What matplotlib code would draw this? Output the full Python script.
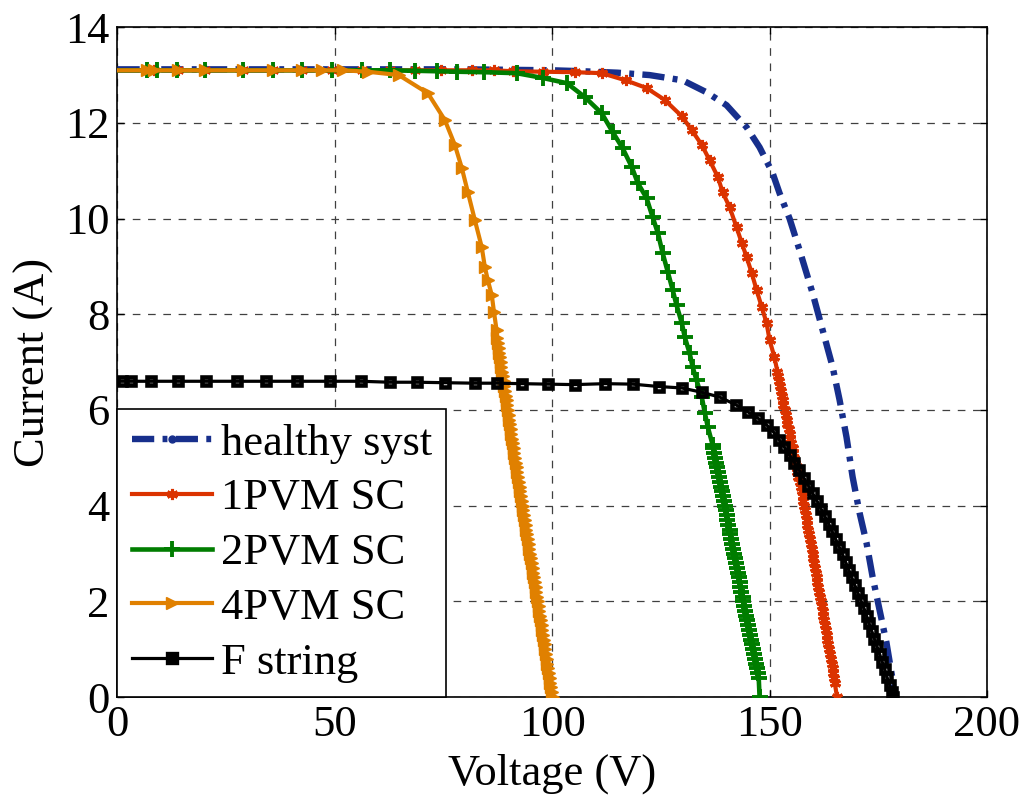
import matplotlib
matplotlib.use('Agg')
import matplotlib.pyplot as plt
from matplotlib.lines import Line2D

plt.rcParams['font.family'] = ['Liberation Serif', 'DejaVu Serif']
plt.rcParams['lines.scale_dashes'] = False

# I-V curves: voltage (V) / current (A)
v_healthy = [0, 20, 40, 60, 80, 100, 107, 115, 122.4, 130, 135.5, 140.1, 144.7, 147.7, 150.7, 152.3,
             154.6, 156.9, 159.9, 162.2, 164.5, 166.1, 167.7, 169.1, 170.7, 172.3, 173.7, 175.3,
             176.9, 178.3, 178.6]
i_healthy = [13.12, 13.12, 13.12, 13.12, 13.12, 13.1, 13.08, 13.05, 13.0, 12.89, 12.64, 12.37, 11.91,
             11.49, 10.95, 10.53, 10.0, 9.34, 8.44, 7.67, 6.90, 6.21, 5.43, 4.60, 3.85, 3.22, 2.51,
             1.82, 1.13, 0.36, 0.0]

v_1pvm = [0, 6.8, 8.5, 14.0, 20.1, 28.9, 35.8, 42.4, 49.3, 56.2, 62.6, 68.4, 74.5, 81.5, 86.5, 91.0,
          97.8, 105.2, 111.4, 116.9, 121.7, 125.9, 129.8, 132.1, 134.4, 136.2, 138.1, 139.2, 140.8,
          142.4, 143.6, 144.7, 145.9, 147.0, 148.2, 149.3, 150.0, 151.1, 151.8,
          152.0, 152.2, 152.4, 152.6, 152.8, 153.0, 153.2, 153.5, 153.7, 153.9,
          154.1, 154.4, 154.6, 154.8, 155.0, 155.3, 155.5, 155.7, 155.9, 156.2,
          156.4, 156.6, 156.9, 157.2, 157.4, 157.6, 157.8, 158.0, 158.2, 158.3,
          158.5, 158.7, 158.9, 159.1, 159.3, 159.5, 159.7, 159.9, 160.0, 160.2,
          160.4, 160.6, 160.8, 161.0, 161.2, 161.4, 161.6, 161.8, 162.0, 162.2,
          162.4, 162.6, 162.7, 162.9, 163.1, 163.3, 163.5, 163.7, 163.9, 164.1,
          164.3, 164.5, 164.6, 164.8, 165.0, 165.5]
i_1pvm = [13.1, 13.1, 13.1, 13.1, 13.1, 13.1, 13.1, 13.1, 13.1, 13.1, 13.1, 13.1, 13.1, 13.1, 13.1, 13.08,
          13.07, 13.06, 13.04, 12.89, 12.73, 12.48, 12.14, 11.85, 11.54, 11.22, 10.87, 10.55, 10.24,
          9.82, 9.49, 9.20, 8.86, 8.51, 8.15, 7.82, 7.46, 7.11, 6.80,
          6.7, 6.6, 6.5, 6.4, 6.3, 6.2, 6.1, 6.0, 5.9, 5.8,
          5.7, 5.6, 5.5, 5.4, 5.3, 5.2, 5.1, 5.0, 4.9, 4.8,
          4.7, 4.6, 4.5, 4.4, 4.3, 4.2, 4.1, 4.0, 3.9, 3.8,
          3.7, 3.6, 3.5, 3.4, 3.3, 3.2, 3.1, 3.0, 2.9, 2.8,
          2.7, 2.6, 2.5, 2.4, 2.3, 2.2, 2.1, 2.0, 1.9, 1.8,
          1.7, 1.6, 1.5, 1.4, 1.3, 1.2, 1.1, 1.0, 0.9, 0.8,
          0.7, 0.6, 0.5, 0.4, 0.3, 0.0]

v_2pvm = [0, 6.8, 9.1, 13.7, 20.1, 28.9, 35.7, 42.4, 49.3, 56.2, 62.6, 68.4, 73.4, 78.0, 84.3, 91.8,
          97.8, 103.4, 107.5, 111.4, 113.9, 116.2, 118.3, 119.7, 121.7, 123.1, 124.3, 125.4, 126.6,
          127.7, 128.6, 129.8, 130.5, 131.6, 132.3, 133.2, 134.4, 135.1, 135.8, 136.9,
          137.0, 137.2, 137.5, 137.7, 137.9, 138.1, 138.3, 138.6, 138.8, 139.0,
          139.2, 139.4, 139.7, 139.9, 140.1, 140.3, 140.5, 140.8, 141.0, 141.2,
          141.4, 141.6, 141.8, 142.0, 142.2, 142.4, 142.7, 142.9, 143.1, 143.3,
          143.5, 143.8, 144.0, 144.2, 144.4, 144.6, 144.9, 145.1, 145.3, 145.5,
          145.8, 146.0, 146.2, 146.5, 146.7, 146.9, 147.1, 147.3, 147.5, 147.7]
i_2pvm = [13.1, 13.1, 13.1, 13.1, 13.1, 13.1, 13.1, 13.1, 13.1, 13.1, 13.1, 13.09, 13.08, 13.07, 13.06,
          13.04, 12.94, 12.83, 12.54, 12.20, 11.81, 11.47, 11.08, 10.74, 10.43, 10.03, 9.70, 9.28,
          8.88, 8.51, 8.19, 7.82, 7.52, 7.19, 6.90, 6.62, 6.27, 5.94, 5.64, 5.27,
          5.2, 5.1, 5.0, 4.9, 4.8, 4.7, 4.6, 4.5, 4.4, 4.3,
          4.2, 4.1, 4.0, 3.9, 3.8, 3.7, 3.6, 3.5, 3.4, 3.3,
          3.2, 3.1, 3.0, 2.9, 2.8, 2.7, 2.6, 2.5, 2.4, 2.3,
          2.2, 2.1, 2.0, 1.9, 1.8, 1.7, 1.6, 1.5, 1.4, 1.3,
          1.2, 1.1, 1.0, 0.9, 0.8, 0.7, 0.6, 0.5, 0.4, 0.0]

v_4pvm = [0, 6.8, 8.5, 14.0, 20.1, 28.9, 35.8, 42.4, 47.0, 51.8, 57.6, 64.7, 71.4, 75.3, 77.6, 79.2,
          80.6, 82.2, 83.8, 84.5, 85.2, 86.1, 86.6, 87.2,
          87.4, 87.5, 87.7, 87.8, 88.0, 88.2, 88.3, 88.5, 88.6, 88.8,
          89.0, 89.1, 89.3, 89.5, 89.6, 89.8, 90.0, 90.1, 90.3, 90.5,
          90.6, 90.8, 91.0, 91.1, 91.3, 91.5, 91.6, 91.8, 92.0, 92.1,
          92.3, 92.5, 92.6, 92.8, 93.0, 93.2, 93.3, 93.5, 93.7, 93.9,
          94.0, 94.2, 94.4, 94.6, 94.7, 94.9, 95.1, 95.3, 95.5, 95.6,
          95.8, 96.0, 96.2, 96.3, 96.5, 96.7, 96.9, 97.0, 97.2, 97.4,
          97.6, 97.7, 97.9, 98.1, 98.3, 98.4, 98.6, 98.8, 98.9, 99.1,
          99.3, 99.5, 99.6, 99.8, 100.0, 100.1]
i_4pvm = [13.1, 13.1, 13.1, 13.1, 13.1, 13.1, 13.1, 13.1, 13.1, 13.1, 13.07, 13.0, 12.62, 12.06, 11.54,
          11.06, 10.55, 9.97, 9.40, 8.99, 8.71, 8.40, 8.05, 7.67,
          7.5, 7.4, 7.3, 7.2, 7.1, 7.0, 6.9, 6.8, 6.7, 6.6,
          6.5, 6.4, 6.3, 6.2, 6.1, 6.0, 5.9, 5.8, 5.7, 5.6,
          5.5, 5.4, 5.3, 5.2, 5.1, 5.0, 4.9, 4.8, 4.7, 4.6,
          4.5, 4.4, 4.3, 4.2, 4.1, 4.0, 3.9, 3.8, 3.7, 3.6,
          3.5, 3.4, 3.3, 3.2, 3.1, 3.0, 2.9, 2.8, 2.7, 2.6,
          2.5, 2.4, 2.3, 2.2, 2.1, 2.0, 1.9, 1.8, 1.7, 1.6,
          1.5, 1.4, 1.3, 1.2, 1.1, 1.0, 0.9, 0.8, 0.7, 0.6,
          0.5, 0.4, 0.3, 0.2, 0.1, 0.0]

v_fstring = [0, 1.0, 3.1, 7.7, 13.9, 20.3, 27.5, 34.1, 41.3, 48.9, 56.0, 62.6, 68.9, 75.3, 82.2, 87.2,
             93.0, 99.0, 105.2, 112.1, 118.5, 124.5, 129.8, 134.4, 138.5, 142.2, 145.0, 147.3, 149.4,
             150.9, 152.2, 153.4, 154.6, 155.7, 156.8, 157.9, 158.9, 159.9, 160.9, 161.8, 162.7, 163.6,
             164.4, 165.2, 166.0, 166.8, 167.5, 168.2, 168.9, 169.6, 170.3, 171.0, 171.7, 172.3, 172.9,
             173.5, 174.1, 174.7, 175.3, 175.9, 176.5, 177.0, 177.6, 178.1, 178.4]
i_fstring = [6.6, 6.6, 6.6, 6.6, 6.6, 6.6, 6.6, 6.6, 6.6, 6.6, 6.6, 6.58, 6.58, 6.57, 6.56, 6.56,
             6.55, 6.54, 6.53, 6.55, 6.54, 6.49, 6.46, 6.37, 6.27, 6.11, 5.96, 5.83, 5.68,
             5.54, 5.38, 5.22, 5.06, 4.90, 4.74, 4.58, 4.42, 4.26, 4.10, 3.94, 3.78, 3.62,
             3.46, 3.30, 3.14, 2.98, 2.82, 2.66, 2.50, 2.34, 2.18, 2.02, 1.86, 1.70, 1.54,
             1.38, 1.22, 1.06, 0.90, 0.74, 0.58, 0.42, 0.26, 0.10, 0.0]

labels = ['healthy syst', '1PVM SC', '2PVM SC', '4PVM SC', 'F string']

blue = '#172f8c'
red = '#db3300'
green = '#007d00'
orange = '#e08000'

fig = plt.figure(figsize=(10.27, 8.01), dpi=100)
ax = fig.add_axes([0.1144, 0.1298, 0.8466, 0.8362])

blue_dash = (0, (16, 6, 3.5, 6))
ax.plot(v_healthy, i_healthy, color=blue, lw=4.6, linestyle=blue_dash, dash_capstyle='butt', zorder=3)
ax.plot(v_1pvm, i_1pvm, color=red, lw=3, marker=(6, 2, 0), ms=8, mew=2.2,
        markevery=slice(1, None), zorder=4)
ax.plot(v_2pvm, i_2pvm, color=green, lw=3.3, marker='+', ms=11.5, mew=2.8,
        markevery=slice(1, None), zorder=5)
ax.plot(v_4pvm, i_4pvm, color=orange, lw=3, marker='>', ms=9, mec=orange,
        markevery=slice(1, None), zorder=6)
ax.plot(v_fstring, i_fstring, color='k', lw=2.3, marker='s', ms=5.6, mfc='none', mew=3.3,
        markevery=slice(1, None), zorder=7)

ax.set_xlim(0, 200)
ax.set_ylim(0, 14)
ax.set_xticks([0, 50, 100, 150, 200])
ax.set_yticks(range(0, 15, 2))
ax.grid(True, color='0.25', linestyle=(0, (5.5, 5.5)), linewidth=0.9)
ax.set_axisbelow(True)
ax.tick_params(direction='in', top=True, right=True, length=5, width=1, labelsize=32, pad=6)
for s in ax.spines.values():
    s.set_linewidth(1.2)

ax.set_xlabel('Voltage (V)', fontsize=32, labelpad=6)
ax.set_ylabel('Current (A)', fontsize=32, labelpad=8)

handles = [
    Line2D([], [], color=blue, lw=4.6, linestyle=blue_dash, dash_capstyle='butt', marker='.', ms=10),
    Line2D([], [], color=red, lw=3, marker=(6, 2, 0), ms=8, mew=2.2),
    Line2D([], [], color=green, lw=3.3, marker='+', ms=11.5, mew=2.8),
    Line2D([], [], color=orange, lw=3, marker='>', ms=9),
    Line2D([], [], color='k', lw=2.3, marker='s', ms=6.5, mew=2.4),
]
leg = ax.legend(handles, labels, loc='lower left', bbox_to_anchor=(0, 0), borderaxespad=0,
                fontsize=32, fancybox=False, framealpha=1, edgecolor='k', handlelength=1.8,
                handletextpad=0.2, labelspacing=0.33, borderpad=0.32)
leg.get_frame().set_linewidth(1.2)
leg.set_zorder(10)

fig.savefig('out.png', dpi=100)
